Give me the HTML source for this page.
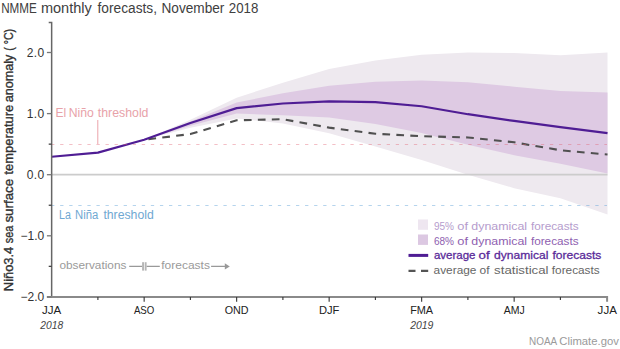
<!DOCTYPE html>
<html><head><meta charset="utf-8"><style>
html,body{margin:0;padding:0;background:#fff;width:620px;height:349px;overflow:hidden}
svg{display:block}
text{font-family:"Liberation Sans", sans-serif}
</style></head><body>
<svg width="620" height="349" viewBox="0 0 620 349">
<path d="M144.15,139.75 L190.4,119.71 L236.65,97.71 L282.9,82.74 L329.15,69 L375.4,60.44 L421.65,54.64 L467.9,52.5 L514.15,53.11 L560.4,55.25 L607.5,52.5 L607.5,214.41 L560.4,198.22 L514.15,188.14 L467.9,174.7 L421.65,160.04 L375.4,146.59 L329.15,133.15 L282.9,123.38 L236.65,118.49 L190.4,127.65 L144.15,139.75 Z" fill="#EEE9EF"/>
<path d="M144.15,139.75 L190.4,121.54 L236.65,102.6 L282.9,93.13 L329.15,85.8 L375.4,81.83 L421.65,80.61 L467.9,82.13 L514.15,86.72 L560.4,90.99 L607.5,92.52 L607.5,173.48 L560.4,163.7 L514.15,155.15 L467.9,144.76 L421.65,133.03 L375.4,124.05 L329.15,117.57 L282.9,115.13 L236.65,113.6 L190.4,125.82 L144.15,139.75 Z" fill="#DECAE3"/>
<line x1="52" y1="174.7" x2="607.5" y2="174.7" stroke="#CCCCCC" stroke-width="1.8"/>
<path d="M144.15,139.75 L190.4,134.07 L236.65,120.32 L282.9,119.22 L329.15,127.65 L375.4,133.76 L421.65,136.21 L467.9,137.43 L514.15,142.32 L560.4,150.26 L607.5,154.54" fill="none" stroke="#505050" stroke-width="2.1" stroke-dasharray="7.7,6.27" stroke-dashoffset="9.67"/>
<path d="M51.65,156.74 L97.9,152.58 L144.15,139.75 L190.4,123.07 L236.65,108.1 L282.9,103.52 L329.15,101.38 L375.4,102.17 L421.65,106.27 L467.9,114.21 L514.15,120.93 L560.4,127.04 L607.5,133.15" fill="none" stroke="#4F1D94" stroke-width="2.2" stroke-linejoin="round"/>
<line x1="51.65" y1="144.5" x2="607" y2="144.5" stroke="#E06070" stroke-opacity="0.4" stroke-width="1" stroke-dasharray="3.3,5.77" stroke-dashoffset="0.55"/>
<line x1="51.65" y1="205.5" x2="607" y2="205.5" stroke="#5AA0D8" stroke-opacity="0.45" stroke-width="1" stroke-dasharray="3.3,5.77" stroke-dashoffset="0.55"/>
<line x1="97.8" y1="120" x2="97.8" y2="144" stroke="#EBA3AA" stroke-width="1"/>
<path d="M46.9,296.9 H607.1 V301.8" fill="none" stroke="#8a8a8a" stroke-width="2"/>
<path d="M48.7,22.5 H51.65 V296" fill="none" stroke="#666" stroke-width="1.5"/>
<line x1="46.9" y1="52.5" x2="51.6" y2="52.5" stroke="#777" stroke-width="1.3"/>
<line x1="46.9" y1="113.6" x2="51.6" y2="113.6" stroke="#777" stroke-width="1.3"/>
<line x1="46.9" y1="174.7" x2="51.6" y2="174.7" stroke="#777" stroke-width="1.3"/>
<line x1="46.9" y1="235.8" x2="51.6" y2="235.8" stroke="#777" stroke-width="1.3"/>
<line x1="46.9" y1="296.9" x2="51.6" y2="296.9" stroke="#777" stroke-width="1.3"/>
<line x1="48.7" y1="144.15" x2="51.6" y2="144.15" stroke="#444" stroke-width="1.3"/>
<line x1="48.7" y1="205.25" x2="51.6" y2="205.25" stroke="#444" stroke-width="1.3"/>
<line x1="48.7" y1="266.35" x2="51.6" y2="266.35" stroke="#444" stroke-width="1.3"/>
<line x1="97.9" y1="297" x2="97.9" y2="299.9" stroke="#333" stroke-width="1.1"/>
<line x1="144.15" y1="297" x2="144.15" y2="301.7" stroke="#333" stroke-width="1.1"/>
<line x1="190.4" y1="297" x2="190.4" y2="299.9" stroke="#333" stroke-width="1.1"/>
<line x1="236.65" y1="297" x2="236.65" y2="301.7" stroke="#333" stroke-width="1.1"/>
<line x1="282.9" y1="297" x2="282.9" y2="299.9" stroke="#333" stroke-width="1.1"/>
<line x1="329.15" y1="297" x2="329.15" y2="301.7" stroke="#333" stroke-width="1.1"/>
<line x1="375.4" y1="297" x2="375.4" y2="299.9" stroke="#333" stroke-width="1.1"/>
<line x1="421.65" y1="297" x2="421.65" y2="301.7" stroke="#333" stroke-width="1.1"/>
<line x1="467.9" y1="297" x2="467.9" y2="299.9" stroke="#333" stroke-width="1.1"/>
<line x1="514.15" y1="297" x2="514.15" y2="301.7" stroke="#333" stroke-width="1.1"/>
<line x1="560.4" y1="297" x2="560.4" y2="299.9" stroke="#333" stroke-width="1.1"/>
<text x="44.2" y="56.8" text-anchor="end" font-size="12" fill="#333" textLength="17.5">2.0</text>
<text x="44.2" y="117.9" text-anchor="end" font-size="12" fill="#333" textLength="17.5">1.0</text>
<text x="44.2" y="179" text-anchor="end" font-size="12" fill="#333" textLength="17.5">0.0</text>
<text x="44.2" y="240.1" text-anchor="end" font-size="12" fill="#333" textLength="23.8">−1.0</text>
<text x="44.2" y="301.2" text-anchor="end" font-size="12" fill="#333" textLength="23.8">−2.0</text>
<text x="51.65" y="313.8" text-anchor="middle" font-size="11.5" fill="#222" textLength="19.3" lengthAdjust="spacingAndGlyphs">JJA</text>
<text x="144.15" y="313.8" text-anchor="middle" font-size="11.5" fill="#222" textLength="20.5" lengthAdjust="spacingAndGlyphs">ASO</text>
<text x="236.65" y="313.8" text-anchor="middle" font-size="11.5" fill="#222" textLength="23.9" lengthAdjust="spacingAndGlyphs">OND</text>
<text x="329.15" y="313.8" text-anchor="middle" font-size="11.5" fill="#222" textLength="20.5" lengthAdjust="spacingAndGlyphs">DJF</text>
<text x="421.65" y="313.8" text-anchor="middle" font-size="11.5" fill="#222" textLength="23" lengthAdjust="spacingAndGlyphs">FMA</text>
<text x="514.15" y="313.8" text-anchor="middle" font-size="11.5" fill="#222" textLength="21" lengthAdjust="spacingAndGlyphs">AMJ</text>
<text x="607.25" y="313.8" text-anchor="middle" font-size="11.5" fill="#222" textLength="19.3" lengthAdjust="spacingAndGlyphs">JJA</text>
<text x="40.25" y="328.8" font-size="11" fill="#444" font-style="italic" textLength="22.92" lengthAdjust="spacingAndGlyphs">2018</text>
<text x="410.15" y="328.8" font-size="11" fill="#444" font-style="italic" textLength="23.28" lengthAdjust="spacingAndGlyphs">2019</text>
<text x="1.14" y="12.8" font-size="14" fill="#404040" textLength="35.66" lengthAdjust="spacingAndGlyphs">NMME</text>
<text x="40.92" y="12.8" font-size="14" fill="#404040" textLength="50.9" lengthAdjust="spacingAndGlyphs">monthly</text>
<text x="97.49" y="12.8" font-size="14" fill="#404040" textLength="59.54" lengthAdjust="spacingAndGlyphs">forecasts,</text>
<text x="161.47" y="12.8" font-size="14" fill="#404040" textLength="62.94" lengthAdjust="spacingAndGlyphs">November</text>
<text x="228.84" y="12.8" font-size="14" fill="#404040" textLength="29.56" lengthAdjust="spacingAndGlyphs">2018</text>
<g transform="translate(12.6,0) rotate(-90)">
<text x="-291.16" y="0" font-size="12" fill="#333" stroke="#333" stroke-width="0.35" textLength="44.44" lengthAdjust="spacingAndGlyphs">Niño3.4</text>
<text x="-243.3" y="0" font-size="12" fill="#333" stroke="#333" stroke-width="0.35" textLength="17.5" lengthAdjust="spacingAndGlyphs">sea</text>
<text x="-222.57" y="0" font-size="12" fill="#333" stroke="#333" stroke-width="0.35" textLength="43.76" lengthAdjust="spacingAndGlyphs">surface</text>
<text x="-174.59" y="0" font-size="12" fill="#333" stroke="#333" stroke-width="0.35" textLength="69.77" lengthAdjust="spacingAndGlyphs">temperature</text>
<text x="-102.34" y="0" font-size="12" fill="#333" stroke="#333" stroke-width="0.35" textLength="47.67" lengthAdjust="spacingAndGlyphs">anomaly</text>
<text x="-50.87" y="0" font-size="12" fill="#333" stroke="#333" stroke-width="0.35" textLength="22.02" lengthAdjust="spacingAndGlyphs">( °C)</text>
</g>
<text x="55.51" y="117" font-size="12.5" fill="#E8A2A9" textLength="10.69" lengthAdjust="spacingAndGlyphs">El</text>
<text x="68.79" y="117" font-size="12.5" fill="#E8A2A9" textLength="25.12" lengthAdjust="spacingAndGlyphs">Niño</text>
<text x="97.82" y="117" font-size="12.5" fill="#E8A2A9" textLength="50.67" lengthAdjust="spacingAndGlyphs">threshold</text>
<text x="59.02" y="218.6" font-size="12.5" fill="#6FA8D2" textLength="11.88" lengthAdjust="spacingAndGlyphs">La</text>
<text x="75.07" y="218.6" font-size="12.5" fill="#6FA8D2" textLength="23.22" lengthAdjust="spacingAndGlyphs">Niña</text>
<text x="103.42" y="218.6" font-size="12.5" fill="#6FA8D2" textLength="50.37" lengthAdjust="spacingAndGlyphs">threshold</text>
<text x="59.4" y="269.2" font-size="11.5" fill="#9A9A9A" textLength="67.02" lengthAdjust="spacingAndGlyphs">observations</text>
<path d="M129.2,266.4 H142.2 M146.5,266.4 H159.8 M211.1,266.4 H225.5" fill="none" stroke="#999" stroke-width="1.2"/>
<rect x="142.1" y="262.2" width="1.9" height="8.4" fill="#B5B5B5"/>
<rect x="144.7" y="262.2" width="1.9" height="8.4" fill="#B5B5B5"/>
<path d="M224.8,263.2 L229.8,266.4 L224.8,269.6 Z" fill="#999"/>
<text x="161.22" y="269.2" font-size="11.5" fill="#9A9A9A" textLength="48.7" lengthAdjust="spacingAndGlyphs">forecasts</text>
<rect x="418" y="219.5" width="10" height="10.3" fill="#EEE6F0"/>
<rect x="418" y="234.5" width="10" height="10.4" fill="#DCC8E2"/>
<line x1="408.5" y1="255.4" x2="428.2" y2="255.4" stroke="#4F1D94" stroke-width="3"/>
<path d="M408.5,270.9 H415.5 M421,270.9 H428.2" stroke="#555" stroke-width="2.2"/>
<text x="433.92" y="229.6" font-size="11.8" fill="#B59CCD" textLength="20.12" lengthAdjust="spacingAndGlyphs">95%</text>
<text x="457.25" y="229.6" font-size="11.8" fill="#B59CCD" textLength="10.73" lengthAdjust="spacingAndGlyphs">of</text>
<text x="471.37" y="229.6" font-size="11.8" fill="#B59CCD" textLength="55.76" lengthAdjust="spacingAndGlyphs">dynamical</text>
<text x="530.92" y="229.6" font-size="11.8" fill="#B59CCD" textLength="47.79" lengthAdjust="spacingAndGlyphs">forecasts</text>
<text x="433.9" y="244.5" font-size="11.8" fill="#8E60B0" textLength="20.15" lengthAdjust="spacingAndGlyphs">68%</text>
<text x="457.25" y="244.5" font-size="11.8" fill="#8E60B0" textLength="10.73" lengthAdjust="spacingAndGlyphs">of</text>
<text x="471.37" y="244.5" font-size="11.8" fill="#8E60B0" textLength="55.76" lengthAdjust="spacingAndGlyphs">dynamical</text>
<text x="530.92" y="244.5" font-size="11.8" fill="#8E60B0" textLength="47.68" lengthAdjust="spacingAndGlyphs">forecasts</text>
<text x="433.91" y="258.7" font-size="11.8" fill="#5A2A99" stroke="#5A2A99" stroke-width="0.3" textLength="41.59" lengthAdjust="spacingAndGlyphs">average</text>
<text x="478.64" y="258.7" font-size="11.8" fill="#5A2A99" stroke="#5A2A99" stroke-width="0.3" textLength="11.05" lengthAdjust="spacingAndGlyphs">of</text>
<text x="494.09" y="258.7" font-size="11.8" fill="#5A2A99" stroke="#5A2A99" stroke-width="0.3" textLength="54.42" lengthAdjust="spacingAndGlyphs">dynamical</text>
<text x="552.42" y="258.7" font-size="11.8" fill="#5A2A99" stroke="#5A2A99" stroke-width="0.3" textLength="49" lengthAdjust="spacingAndGlyphs">forecasts</text>
<text x="433.6" y="273.7" font-size="11.8" fill="#666" textLength="42.82" lengthAdjust="spacingAndGlyphs">average</text>
<text x="479.49" y="273.7" font-size="11.8" fill="#666" textLength="10" lengthAdjust="spacingAndGlyphs">of</text>
<text x="494.14" y="273.7" font-size="11.8" fill="#666" textLength="54.36" lengthAdjust="spacingAndGlyphs">statistical</text>
<text x="551.82" y="273.7" font-size="11.8" fill="#666" textLength="47.89" lengthAdjust="spacingAndGlyphs">forecasts</text>
<text x="529.08" y="345.2" font-size="11.5" fill="#9A9A9A" textLength="28.13" lengthAdjust="spacingAndGlyphs">NOAA</text>
<text x="559.34" y="345.2" font-size="11.5" fill="#9A9A9A" textLength="59.49" lengthAdjust="spacingAndGlyphs">Climate.gov</text>
</svg>
</body></html>
